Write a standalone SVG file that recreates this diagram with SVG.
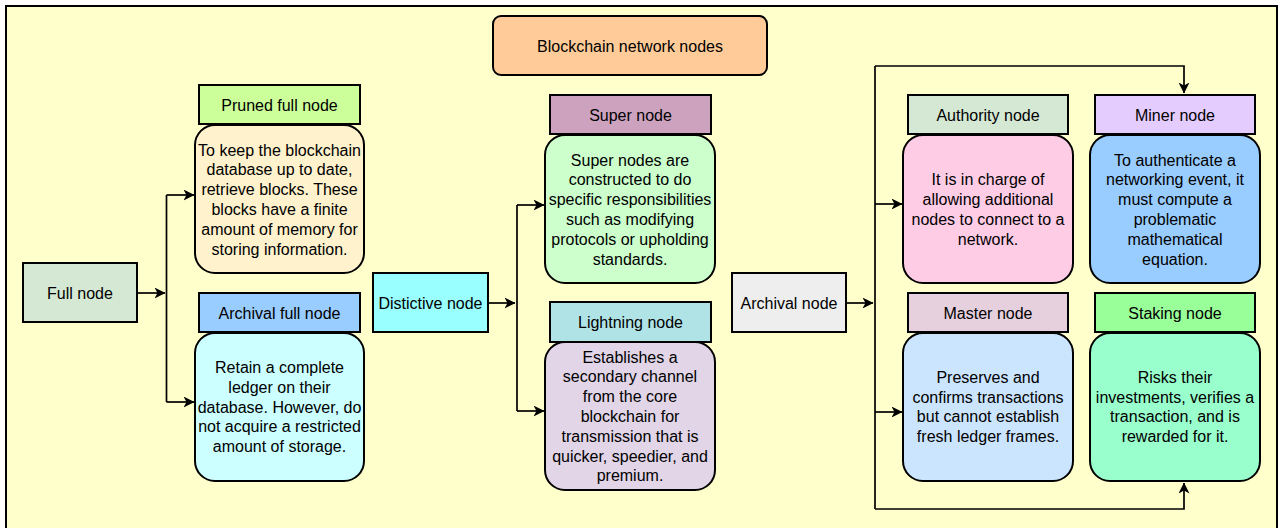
<svg xmlns="http://www.w3.org/2000/svg" width="1280" height="528" viewBox="0 0 1280 528">
<defs>
<marker id="arr" viewBox="0 0 11 11" markerWidth="11" markerHeight="11" refX="10.5" refY="5.5" orient="auto" markerUnits="userSpaceOnUse">
<path d="M0,0 L11,5.5 L0,11 L3,5.5 Z" fill="#000"/>
</marker>
<style>
text{font-family:"Liberation Sans",Arial,sans-serif;font-size:16px;fill:#000;text-anchor:middle}
.box{stroke:#000;stroke-width:2}
.ln{fill:none;stroke:#000;stroke-width:1.7}
.ar{fill:none;stroke:#000;stroke-width:1.7;marker-end:url(#arr)}
</style>
</defs>
<rect x="6" y="6" width="1271" height="540" fill="#FFFFCC" stroke="#000" stroke-width="2"/>

<g id="connectors">
<path class="ar" d="M137,293 H165"/>
<path class="ln" d="M166.5,195 V402"/>
<path class="ar" d="M166.5,195 H194"/>
<path class="ar" d="M166.5,402 H194"/>
<path class="ar" d="M488,303 H515"/>
<path class="ln" d="M517,205 V411"/>
<path class="ar" d="M517,205 H544"/>
<path class="ar" d="M517,411 H544"/>
<path class="ar" d="M846,303 H873"/>
<path class="ln" d="M875,66 V509"/>
<path class="ar" d="M875,66 H1184 V93"/>
<path class="ar" d="M875,509 H1184 V483"/>
<path class="ar" d="M875,204 H902"/>
<path class="ar" d="M875,412 H902"/>
</g>

<g id="header">
<rect class="box" x="493" y="16" width="274" height="59" rx="8" fill="#FFCC99"/>
<text x="630" y="51.5">Blockchain network nodes</text>
</g>

<g id="full-node">
<rect class="box" x="23" y="263" width="114" height="59" fill="#D5E8D4"/>
<text x="80" y="298.5">Full node</text>
</g>

<g id="pruned-full-node">
<rect class="box" x="199" y="85" width="161" height="39" fill="#CCFF99"/>
<text x="279.5" y="110.5">Pruned full node</text>
</g>
<g id="pruned-desc">
<rect class="box" x="195" y="125" width="169" height="148" rx="20" fill="#FFF2CC"/>
<text x="279.5" y="155.5">To keep the blockchain</text>
<text x="279.5" y="175.3">database up to date,</text>
<text x="279.5" y="195.1">retrieve blocks. These</text>
<text x="279.5" y="214.9">blocks have a finite</text>
<text x="279.5" y="234.7">amount of memory for</text>
<text x="279.5" y="254.5">storing information.</text>
</g>

<g id="archival-full-node">
<rect class="box" x="199" y="293" width="161" height="39" fill="#99CCFF"/>
<text x="279.5" y="318.5">Archival full node</text>
</g>
<g id="archival-full-desc">
<rect class="box" x="195" y="333" width="169" height="148" rx="20" fill="#CCFFFF"/>
<text x="279.5" y="372.9">Retain a complete</text>
<text x="279.5" y="392.7">ledger on their</text>
<text x="279.5" y="412.5">database. However, do</text>
<text x="279.5" y="432.3">not acquire a restricted</text>
<text x="279.5" y="452.1">amount of storage.</text>
</g>

<g id="distictive-node">
<rect class="box" x="373" y="273" width="115" height="59" fill="#99FFFF"/>
<text x="430.5" y="308.5">Distictive node</text>
</g>

<g id="super-node">
<rect class="box" x="550" y="95" width="161" height="39" fill="#CDA2BE"/>
<text x="630.5" y="120.5">Super node</text>
</g>
<g id="super-desc">
<rect class="box" x="545" y="135" width="170" height="148" rx="20" fill="#CCFFCC"/>
<text x="630" y="165.5">Super nodes are</text>
<text x="630" y="185.3">constructed to do</text>
<text x="630" y="205.1">specific responsibilities</text>
<text x="630" y="224.9">such as modifying</text>
<text x="630" y="244.7">protocols or upholding</text>
<text x="630" y="264.5">standards.</text>
</g>

<g id="lightning-node">
<rect class="box" x="550" y="302" width="161" height="40" fill="#B0E3E6"/>
<text x="630.5" y="328">Lightning node</text>
</g>
<g id="lightning-desc">
<rect class="box" x="545" y="342" width="170" height="148" rx="20" fill="#E1D5E7"/>
<text x="630" y="362.6">Establishes a</text>
<text x="630" y="382.4">secondary channel</text>
<text x="630" y="402.2">from the core</text>
<text x="630" y="422">blockchain for</text>
<text x="630" y="441.8">transmission that is</text>
<text x="630" y="461.6">quicker, speedier, and</text>
<text x="630" y="481.4">premium.</text>
</g>

<g id="archival-node">
<rect class="box" x="732" y="273" width="114" height="59" fill="#EEEEEE"/>
<text x="789" y="308.5">Archival node</text>
</g>

<g id="authority-node">
<rect class="box" x="908" y="95" width="160" height="39" fill="#D5E8D4"/>
<text x="988" y="120.5">Authority node</text>
</g>
<g id="authority-desc">
<rect class="box" x="903" y="135" width="170" height="148" rx="20" fill="#FFCCE6"/>
<text x="988" y="185.3">It is in charge of</text>
<text x="988" y="205.1">allowing additional</text>
<text x="988" y="224.9">nodes to connect to a</text>
<text x="988" y="244.7">network.</text>
</g>

<g id="miner-node">
<rect class="box" x="1095" y="95" width="160" height="39" fill="#E5CCFF"/>
<text x="1175" y="120.5">Miner node</text>
</g>
<g id="miner-desc">
<rect class="box" x="1090" y="135" width="170" height="148" rx="20" fill="#99CCFF"/>
<text x="1175" y="165.5">To authenticate a</text>
<text x="1175" y="185.3">networking event, it</text>
<text x="1175" y="205.1">must compute a</text>
<text x="1175" y="224.9">problematic</text>
<text x="1175" y="244.7">mathematical</text>
<text x="1175" y="264.5">equation.</text>
</g>

<g id="master-node">
<rect class="box" x="908" y="293" width="160" height="39" fill="#E6D0DE"/>
<text x="988" y="318.5">Master node</text>
</g>
<g id="master-desc">
<rect class="box" x="903" y="333" width="170" height="148" rx="20" fill="#CCE5FF"/>
<text x="988" y="382.8">Preserves and</text>
<text x="988" y="402.6">confirms transactions</text>
<text x="988" y="422.4">but cannot establish</text>
<text x="988" y="442.2">fresh ledger frames.</text>
</g>

<g id="staking-node">
<rect class="box" x="1095" y="293" width="160" height="39" fill="#99FF99"/>
<text x="1175" y="318.5">Staking node</text>
</g>
<g id="staking-desc">
<rect class="box" x="1090" y="333" width="170" height="148" rx="20" fill="#99FFCC"/>
<text x="1175" y="382.8">Risks their</text>
<text x="1175" y="402.6">investments, verifies a</text>
<text x="1175" y="422.4">transaction, and is</text>
<text x="1175" y="442.2">rewarded for it.</text>
</g>
</svg>
